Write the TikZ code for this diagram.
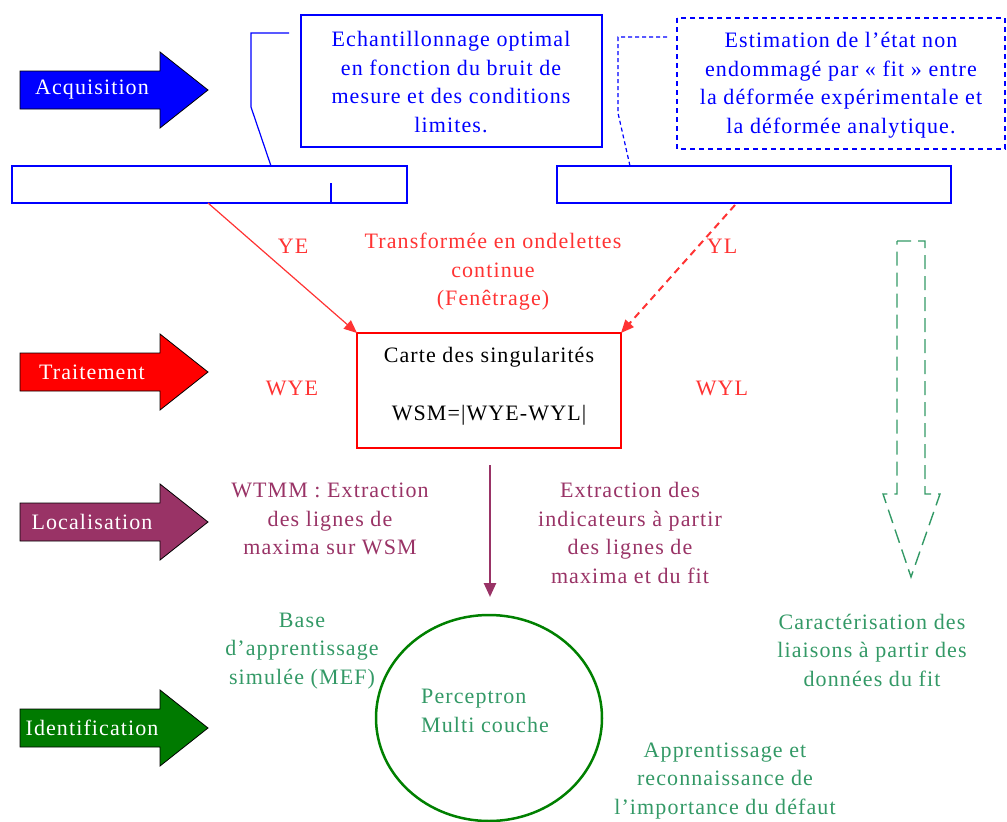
\documentclass[tikz,border=0pt]{standalone}
\usepackage{fontspec}
\setmainfont{Liberation Serif}[LetterSpace=5]
\usetikzlibrary{arrows.meta}
\definecolor{cblue}{HTML}{0000FF}
\definecolor{cred}{HTML}{FF0000}
\definecolor{ctred}{HTML}{FF3333}
\definecolor{cpurple}{HTML}{993366}
\definecolor{cdgreen}{HTML}{007A00}
\definecolor{cgreen}{HTML}{008000}
\definecolor{ctgreen}{HTML}{339966}
\tikzset{
  txt/.style={font=\fontsize{22}{28.5}\selectfont, align=center, inner sep=0pt},
  arrowtxt/.style={txt, text=white},
  blk/.style={draw=black, line width=0.8pt},
  bluebox/.style={draw=cblue, line width=1.2pt},
}
\newcommand\blkarrow[4]{%
  \draw[blk, fill=#2] (20,#1-19) -- (160,#1-19) -- (160,#1-38) -- (208,#1) -- (160,#1+38) -- (160,#1+19) -- (20,#1+19) -- cycle;
  \node[arrowtxt] (#4) at (92,#1) {#3};}
\begin{document}
\begin{tikzpicture}[x=1pt,y=-1pt]
\useasboundingbox (0,0) rectangle (1007,822);
% block arrows
\blkarrow{90}{cblue}{Acquisition}{acq}
\blkarrow{372}{cred}{Traitement}{trt}
\blkarrow{522}{cpurple}{Localisation}{loc}
\blkarrow{728}{cdgreen}{Identification}{idf}
% top boxes
\draw[bluebox] (301,15) rectangle (602,147);
\node[txt, text=cblue] (ech) at (451,82) {Echantillonnage optimal\\en fonction du bruit de\\mesure et des conditions\\limites.};
\draw[bluebox, dashed, dash pattern=on 5pt off 4pt] (677,18) rectangle (1005,149);
\node[txt, text=cblue] (est) at (841,85) {Estimation de l’état non\\endommagé par « fit » entre\\la déformée expérimentale et\\la déformée analytique.};
% wide boxes
\draw[bluebox] (12,166) rectangle (407,203);
\coordinate (w1top) at (271,166);
\coordinate (w1bot) at (208,203);
\draw[bluebox] (331,183) -- (331,203);
\draw[bluebox] (557,166) rectangle (951,203);
\coordinate (w2top) at (630,166);
\coordinate (w2bot) at (735,205);
% callouts
\coordinate (c1) at (289,33);
\draw[draw=cblue, line width=1.2pt] (c1) -- (251,33) -- (251,107) -- (w1top);
\coordinate (c2) at (667,37);
\draw[draw=cblue, line width=1.2pt, dashed, dash pattern=on 4pt off 3pt] (c2) -- (618,37) -- (618,113) -- (w2top);
% red box
\draw[draw=cred, line width=1.2pt] (357,333) rectangle (621,448);
\coordinate (rtl) at (357,333);
\coordinate (rtr) at (621,333);
\node[txt] (carte) at (489,357) {Carte des singularités};
\node[txt] (wsm) at (489,415) {WSM=|WYE-WYL|};
\draw[draw=ctred, line width=1.2pt, -{Triangle[length=13pt,width=11pt]}] (w1bot) -- (rtl);
\draw[draw=ctred, line width=2pt, dashed, dash pattern=on 7pt off 5pt, -{Triangle[length=13pt,width=11pt]}] (w2bot) -- (rtr);
% red labels
\node[txt, text=ctred] (ye) at (293,246) {YE};
\node[txt, text=ctred] (yl) at (722,246) {YL};
\node[txt, text=ctred] (trf) at (493,272) {Transformée en ondelettes\\continue\\(Fenêtrage)};
\node[txt, text=ctred] (wye) at (292,388) {WYE};
\node[txt, text=ctred] (wyl) at (722,388) {WYL};
% purple
\coordinate (pa) at (490,465);
\coordinate (pb) at (490,597);
\draw[draw=cpurple, line width=2.5pt, -{Triangle[length=14pt,width=12pt]}] (pa) -- (pb);
\node[txt, text=cpurple] (wtmm) at (330,519) {WTMM : Extraction\\des lignes de\\maxima sur WSM};
\node[txt, text=cpurple] (extr) at (630,533) {Extraction des\\indicateurs à partir\\des lignes de\\maxima et du fit};
% circle
\draw[draw=cgreen, line width=2.5pt] (489,718) ellipse [x radius=113, y radius=103];
\node[txt, text=ctgreen, align=left, anchor=west] (perc) at (421,711) {Perceptron\\Multi couche};
\node[txt, text=ctgreen] (base) at (302,651) {Base\\d’apprentissage\\simulée (MEF)};
\node[txt, text=ctgreen] (cara) at (872,650) {Caractérisation des\\liaisons à partir des\\données du fit};
\node[txt, text=ctgreen] (appr) at (725,781) {Apprentissage et\\reconnaissance de\\l’importance du défaut};
% green dashed arrow
\draw[draw=ctgreen, line width=1.4pt, dashed, dash pattern=on 14pt off 7pt]
  (897,241) -- (925,241) -- (925,494) -- (940,494) -- (911,577) -- (883,494) -- (897,494) -- cycle;
\end{tikzpicture}
\end{document}
